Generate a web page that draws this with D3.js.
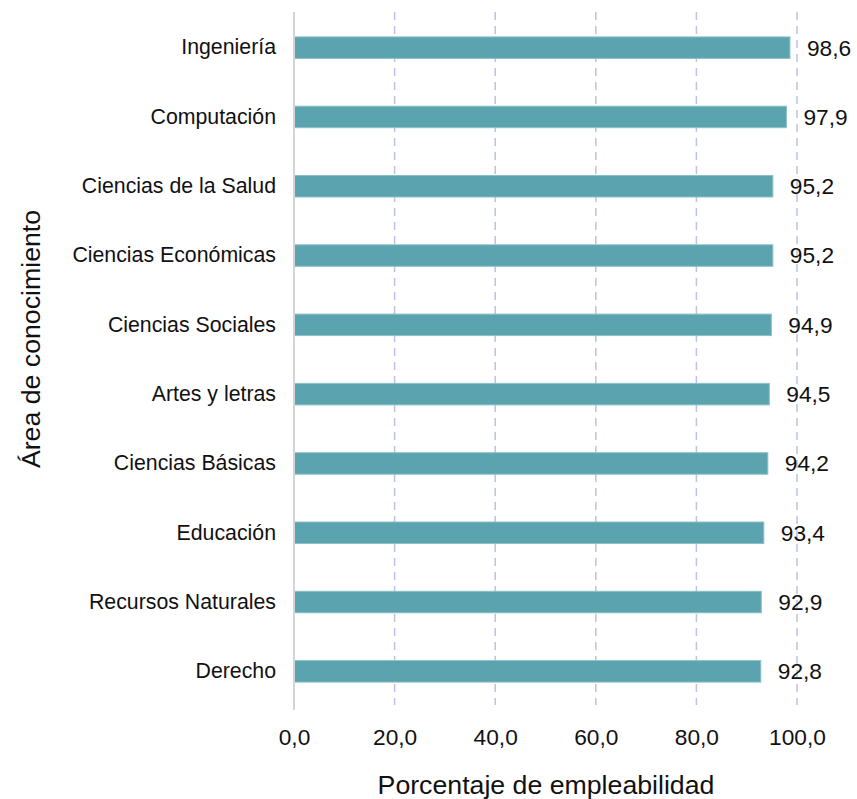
<!DOCTYPE html>
<html>
<head>
<meta charset="utf-8">
<script src="https://d3js.org/d3.v7.min.js"></script>
<style>
    body { margin: 0; background: #fff; }
    text { font-family: "Liberation Sans", Arial, sans-serif; fill: #111; }
</style>
</head>
<body>
<svg width="857" height="799"></svg>
<script>
    const areas = ["Ingeniería", "Computación", "Ciencias de la Salud", "Ciencias Económicas",
        "Ciencias Sociales", "Artes y letras", "Ciencias Básicas", "Educación",
        "Recursos Naturales", "Derecho"];
    const empleabilidad = [98.6, 97.9, 95.2, 95.2, 94.9, 94.5, 94.2, 93.4, 92.9, 92.8];
    const ticks = [0, 20, 40, 60, 80, 100];

    const data = areas.map((a, i) => ({ area: a, value: empleabilidad[i] }));
    const fmt = v => d3.format(".1f")(v).replace(".", ",");

    const svg = d3.select('svg');
    const xs = d3.scaleLinear().domain([0, 100]).range([294, 797]);
    const ys = d3.scaleBand().domain(areas).range([13, 706]).paddingInner(0.69).paddingOuter(0.345);

    // dashed grid
    svg.append('g').selectAll('line').data(ticks.slice(1)).enter().append('line')
        .attr('x1', d => xs(d)).attr('x2', d => xs(d))
        .attr('y1', 12).attr('y2', 705)
        .attr('stroke', '#bac3e2').attr('stroke-width', 1.5)
        .attr('stroke-dasharray', '8,6');

    // bars
    svg.append('g').selectAll('rect').data(data).enter().append('rect')
        .attr('x', xs(0))
        .attr('y', d => ys(d.area))
        .attr('width', d => xs(d.value) - xs(0))
        .attr('height', ys.bandwidth())
        .attr('fill', '#5ba3ae')
        .attr('stroke', '#8cc0c8').attr('stroke-width', 1);

    // value labels
    svg.append('g').selectAll('text').data(data).enter().append('text')
        .attr('x', d => xs(d.value) + 17)
        .attr('y', d => ys(d.area) + ys.bandwidth() / 2)
        .attr('dy', '0.35em')
        .style('font-size', '22.7px')
        .text(d => fmt(d.value));

    // y axis line
    svg.append('line')
        .attr('x1', xs(0)).attr('x2', xs(0))
        .attr('y1', 12).attr('y2', 710)
        .attr('stroke', '#d4d4d4').attr('stroke-width', 2);

    // category labels
    const yAxis = svg.append('g')
        .attr('transform', 'translate(' + (xs(0) - 18) + ',0)')
        .call(d3.axisLeft(ys).tickSize(0).tickPadding(0));
    yAxis.select('.domain').remove();
    yAxis.selectAll('text').style('font-size', '21.3px').attr('fill', '#111')
        .style('font-family', '"Liberation Sans", Arial, sans-serif');

    // x tick labels
    const xAxis = svg.append('g')
        .attr('transform', 'translate(0,729)')
        .call(d3.axisBottom(xs).tickValues(ticks).tickSize(0).tickPadding(0).tickFormat(fmt));
    xAxis.select('.domain').remove();
    xAxis.selectAll('text').style('font-size', '22.7px').attr('fill', '#111')
        .style('font-family', '"Liberation Sans", Arial, sans-serif');

    svg.append('text')
        .attr('x', 546).attr('y', 794)
        .attr('text-anchor', 'middle')
        .style('font-size', '26.7px')
        .text('Porcentaje de empleabilidad');

    svg.append('text')
        .attr('transform', 'translate(40,339) rotate(-90)')
        .attr('text-anchor', 'middle')
        .style('font-size', '26.7px')
        .text('Área de conocimiento');
</script>
</body>
</html>
